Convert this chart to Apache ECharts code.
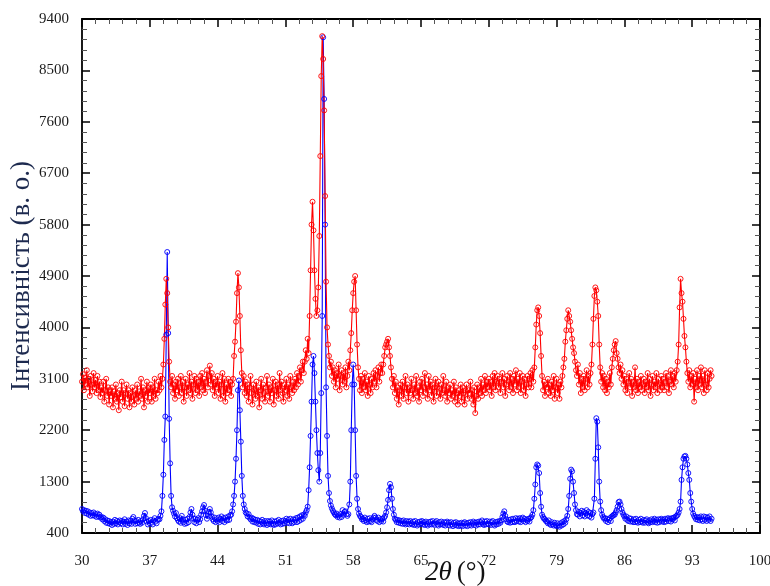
<!DOCTYPE html>
<html>
<head>
<meta charset="utf-8">
<script src="https://cdn.jsdelivr.net/npm/echarts@6/dist/echarts.min.js"></script>
<style>
  html, body { margin: 0; padding: 0; background: #ffffff; }
  #chart { width: 770px; height: 586px; }
</style>
</head>
<body>
<div id="chart"></div>
<script>
// Scan grid: 2θ from 30.0° to 95.0° in 0.1° steps
const startAngle = 30.0;
const stepAngle = 0.1;

// x-axis and y-axis tick values
const xTicks = [30, 37, 44, 51, 58, 65, 72, 79, 86, 93, 100];
const yTicks = [400, 1300, 2200, 3100, 4000, 4900, 5800, 6700, 7600, 8500, 9400];

// Upper pattern (red), one row per degree
const redCounts = [
  3050, 3180, 2900, 3120, 3000, 3250, 2950, 3100, 2800, 3150, // 30
  3000, 2880, 3200, 2950, 3080, 2850, 3150, 2900, 3050, 2780, // 31
  2950, 2850, 3050, 2700, 2900, 3100, 2800, 2950, 2650, 2900, // 32
  2800, 2950, 2600, 2880, 2750, 3000, 2700, 2850, 2550, 2900, // 33
  2780, 3050, 2700, 2900, 2620, 2850, 3000, 2750, 2900, 2600, // 34
  2850, 2700, 2950, 2800, 2650, 2900, 2750, 3000, 2700, 2880, // 35
  2800, 3100, 2750, 2950, 2600, 2900, 2800, 3050, 2700, 2950, // 36
  2850, 3000, 2700, 2950, 2800, 3100, 2750, 2900, 2850, 3050, // 37
  2900, 3150, 2950, 3100, 3350, 3800, 4400, 4850, 4600, 4000, // 38
  3400, 3050, 2950, 3150, 2850, 3000, 2750, 3050, 2900, 3100, // 39
  2800, 2950, 3150, 2850, 3050, 2700, 2950, 3100, 2800, 3000, // 40
  2900, 3200, 2850, 3050, 2750, 3000, 3150, 2850, 3100, 2900, // 41
  3050, 2800, 3150, 2950, 3200, 2900, 3100, 2850, 3050, 3250, // 42
  2950, 3150, 3330, 3000, 3200, 2900, 3100, 2800, 3050, 2950, // 43
  3150, 2850, 3050, 2750, 3000, 3200, 2800, 3100, 2700, 3000, // 44
  2850, 3100, 2900, 3050, 2800, 3000, 3100, 3500, 3750, 4100, // 45
  4600, 4950, 4700, 4200, 3600, 3200, 2950, 3150, 2850, 3050, // 46
  2800, 3000, 2700, 2950, 3150, 2850, 2650, 3000, 2900, 2750, // 47
  3050, 2800, 2950, 2600, 2900, 3100, 2750, 3000, 2850, 2700, // 48
  2950, 3150, 2800, 3000, 2700, 2950, 2850, 3100, 2650, 2900, // 49
  3050, 2800, 3000, 2750, 3200, 2900, 3050, 2850, 2700, 3000, // 50
  2900, 3100, 2800, 3000, 2750, 3150, 2950, 2850, 3050, 2900, // 51
  3100, 2950, 3200, 3000, 3150, 3300, 3050, 3250, 3400, 3200, // 52
  3400, 3600, 3450, 3800, 3550, 4200, 5000, 5800, 6200, 5700, // 53
  5000, 4500, 4200, 4300, 4700, 5600, 7000, 8400, 9100, 8700, // 54
  7800, 6300, 4800, 4000, 3700, 3500, 3300, 3400, 3150, 3300, // 55
  3050, 3250, 2950, 3200, 3100, 3350, 2900, 3150, 3250, 3000, // 56
  3200, 3050, 3300, 2950, 3150, 3400, 3250, 3600, 3900, 4300, // 57
  4600, 4800, 4900, 4300, 3700, 3300, 3100, 2900, 3150, 2850, // 58
  3100, 2950, 3200, 2900, 3050, 2800, 3150, 3000, 2850, 3100, // 59
  2950, 3200, 3050, 3250, 2950, 3150, 3300, 3050, 3200, 3350, // 60
  3200, 3350, 3500, 3650, 3700, 3750, 3800, 3650, 3500, 3300, // 61
  3100, 2950, 3150, 2850, 3050, 2750, 2950, 2650, 2900, 3000, // 62
  2800, 3050, 2750, 2950, 3150, 2850, 3000, 2700, 2950, 2850, // 63
  3100, 2900, 2750, 3000, 2850, 3150, 2800, 2950, 2700, 3050, // 64
  2900, 3100, 2800, 2950, 3200, 2850, 3000, 2750, 3150, 2900, // 65
  3050, 2800, 3000, 2700, 2950, 3100, 2800, 2950, 3050, 2850, // 66
  2750, 3000, 2850, 3150, 2900, 2800, 3050, 2700, 2950, 2850, // 67
  3000, 2750, 2900, 2800, 3050, 2700, 2950, 2850, 2650, 2900, // 68
  2800, 3000, 2700, 2950, 2850, 2650, 2900, 3000, 2750, 2900, // 69
  2850, 3050, 2750, 2900, 2650, 2950, 2500, 2800, 3000, 2750, // 70
  2950, 2850, 3100, 2800, 3000, 2900, 3150, 2850, 3050, 2950, // 71
  3100, 2900, 3050, 2800, 3150, 2950, 3200, 2900, 3050, 3150, // 72
  2950, 3100, 2850, 3050, 3200, 2950, 3100, 2800, 3000, 3150, // 73
  3050, 2900, 3200, 2950, 3100, 2850, 3150, 3000, 3250, 2900, // 74
  3100, 2950, 3200, 2850, 3050, 3150, 2900, 3100, 2800, 3000, // 75
  3150, 2950, 3100, 3200, 2950, 3250, 3050, 3300, 3650, 4050, // 76
  4300, 4350, 4200, 3900, 3500, 3150, 2900, 3050, 2800, 3000, // 77
  2950, 3100, 2850, 3000, 2800, 3050, 2900, 3150, 2750, 2950, // 78
  3100, 2850, 3000, 2750, 3050, 2950, 3150, 3300, 3450, 3750, // 79
  3950, 4150, 4300, 4200, 4100, 3950, 3800, 3650, 3550, 3400, // 80
  3250, 3150, 3350, 3000, 3200, 2850, 3100, 2950, 3150, 2900, // 81
  3100, 3250, 2950, 3150, 3000, 3200, 3350, 3700, 4150, 4550, // 82
  4700, 4650, 4450, 4200, 3700, 3300, 3050, 3200, 2950, 3150, // 83
  2900, 3100, 2850, 3050, 2950, 3200, 3000, 3300, 3450, 3600, // 84
  3700, 3760, 3550, 3450, 3300, 3200, 3350, 3100, 3250, 3000, // 85
  3150, 2900, 3100, 2850, 3050, 3200, 2950, 3100, 2800, 3050, // 86
  2950, 3300, 2900, 3100, 2850, 3050, 2950, 3150, 2900, 3000, // 87
  3100, 2850, 3050, 2950, 3200, 2900, 3100, 2800, 3000, 3150, // 88
  2900, 3050, 2950, 3200, 2850, 3100, 3000, 2900, 3150, 2950, // 89
  3100, 2900, 3050, 3200, 2950, 3150, 2850, 3050, 3250, 3000, // 90
  3150, 2950, 3200, 3050, 3250, 3400, 3700, 4350, 4850, 4600, // 91
  4450, 4150, 3850, 3650, 3400, 3200, 3050, 3250, 2950, 3150, // 92
  3000, 3200, 2700, 3100, 2950, 3250, 2900, 3150, 3000, 3300, // 93
  2950, 3150, 2850, 3250, 3000, 2900, 3200, 2950, 3100, 3250, // 94
  3150                                                        // 95
];

// Lower pattern (blue), one row per degree
const blueCounts = [
  820, 780, 800, 750, 790, 740, 780, 720, 760, 700,           // 30
  750, 710, 760, 700, 730, 680, 740, 690, 720, 670,           // 31
  680, 640, 670, 610, 640, 580, 620, 570, 610, 560,           // 32
  590, 540, 600, 560, 630, 570, 610, 550, 590, 620,           // 33
  570, 610, 550, 600, 640, 560, 600, 540, 620, 570,           // 34
  610, 560, 650, 680, 620, 560, 610, 570, 630, 580,           // 35
  560, 610, 580, 640, 700, 750, 660, 600, 550, 610,           // 36
  570, 630, 580, 550, 620, 660, 600, 570, 630, 650,           // 37
  640, 700, 780, 1050, 1420, 2030, 2440, 3870, 5320, 3900,    // 38
  2400, 1620, 1050, 850, 790, 740, 690, 750, 660, 630,        // 39
  600, 660, 580, 700, 640, 590, 560, 630, 570, 650,           // 40
  590, 680, 760, 820, 720, 650, 590, 650, 570, 630,           // 41
  660, 590, 640, 720, 780, 850, 890, 790, 710, 650,           // 42
  700, 770, 820, 760, 690, 640, 610, 670, 590, 640,           // 43
  610, 670, 590, 650, 690, 610, 660, 590, 670, 630,           // 44
  620, 690, 630, 710, 720, 780, 900, 1050, 1300, 1700,        // 45
  2200, 2900, 3070, 2550, 2000, 1400, 1050, 900, 820, 760,    // 46
  740, 690, 730, 670, 640, 670, 600, 650, 590, 630,           // 47
  580, 630, 560, 610, 550, 600, 630, 570, 550, 610,           // 48
  570, 540, 610, 560, 600, 550, 620, 560, 540, 600,           // 49
  550, 610, 570, 630, 580, 550, 610, 560, 620, 570,           // 50
  610, 650, 580, 630, 570, 650, 600, 570, 640, 590,           // 51
  630, 660, 590, 670, 610, 690, 630, 710, 650, 720,           // 52
  700, 760, 800, 860, 1150, 1550, 2100, 2700, 3350, 3500,     // 53
  3200, 2700, 2200, 1800, 1500, 1300, 1800, 2850, 4200, 9080, // 54
  8000, 5800, 2950, 2100, 1400, 1100, 960, 880, 830, 790,     // 55
  760, 730, 710, 740, 680, 710, 670, 730, 680, 800,           // 56
  720, 770, 780, 730, 700, 730, 900, 1300, 2200, 3000,        // 57
  3350, 3000, 2200, 1400, 1000, 820, 740, 700, 680, 640,      // 58
  650, 610, 670, 620, 590, 650, 600, 660, 610, 590,           // 59
  640, 670, 700, 670, 630, 610, 670, 590, 640, 610,           // 60
  650, 600, 670, 700, 760, 850, 980, 1150, 1260, 1200,        // 61
  1000, 820, 720, 650, 630, 590, 630, 580, 620, 570,          // 62
  610, 560, 620, 570, 550, 610, 560, 600, 550, 610,           // 63
  570, 550, 600, 540, 610, 560, 530, 590, 550, 600,           // 64
  560, 610, 550, 590, 540, 600, 560, 530, 590, 550,           // 65
  600, 550, 610, 560, 540, 590, 610, 550, 530, 590,           // 66
  550, 600, 560, 540, 590, 530, 580, 600, 540, 580,           // 67
  530, 590, 550, 520, 580, 540, 590, 530, 570, 520,           // 68
  570, 530, 580, 520, 570, 590, 530, 570, 520, 580,           // 69
  540, 590, 530, 570, 600, 540, 580, 530, 590, 550,           // 70
  600, 550, 590, 620, 560, 540, 600, 550, 610, 560,           // 71
  550, 600, 540, 590, 610, 550, 530, 590, 550, 600,           // 72
  560, 610, 580, 620, 680, 740, 780, 700, 640, 600,           // 73
  590, 630, 580, 640, 590, 650, 600, 590, 660, 610,           // 74
  650, 600, 660, 590, 640, 670, 610, 650, 590, 630,           // 75
  610, 650, 600, 660, 680, 720, 800, 1000, 1250, 1550,        // 76
  1600, 1580, 1450, 1100, 860, 720, 680, 650, 640, 610,       // 77
  600, 570, 620, 560, 540, 590, 550, 530, 580, 540,           // 78
  520, 570, 530, 510, 570, 530, 590, 550, 610, 580,           // 79
  640, 700, 820, 1050, 1350, 1510, 1480, 1300, 1100, 900,     // 80
  800, 730, 720, 770, 690, 750, 790, 710, 770, 690,           // 81
  750, 800, 710, 770, 690, 750, 670, 730, 760, 1000,          // 82
  1700, 2410, 2350, 1900, 1300, 950, 800, 720, 680, 650,      // 83
  660, 610, 650, 590, 630, 660, 610, 690, 700, 720,           // 84
  720, 760, 800, 860, 940, 950, 900, 820, 760, 720,           // 85
  690, 650, 690, 630, 610, 660, 600, 650, 610, 590,           // 86
  640, 590, 650, 600, 580, 630, 590, 650, 600, 580,           // 87
  630, 580, 620, 640, 590, 570, 620, 590, 640, 590,           // 88
  620, 650, 590, 630, 580, 640, 590, 630, 650, 600,           // 89
  630, 590, 650, 600, 640, 660, 610, 650, 600, 660,           // 90
  640, 670, 620, 690, 700, 720, 760, 820, 950, 1330,          // 91
  1550, 1700, 1740, 1750, 1700, 1600, 1450, 1330, 1100, 950,  // 92
  820, 740, 700, 670, 640, 680, 630, 670, 620, 690,           // 93
  640, 610, 690, 630, 680, 610, 670, 630, 690, 610,           // 94
  650                                                         // 95
];

function toPairs(counts) {
  return counts.map((v, i) => [Number((startAngle + i * stepAngle).toFixed(1)), v]);
}

const serif = '"Liberation Serif", "DejaVu Serif", serif';
const labelColor = '#1a1a1a';

function patternSeries(counts, color) {
  return {
    type: 'line',
    data: toPairs(counts),
    symbol: 'circle',
    symbolSize: 5,
    showSymbol: true,
    lineStyle: { color: color, width: 1.1 },
    itemStyle: { color: 'rgba(255,255,255,0)', borderColor: color, borderWidth: 0.9 },
    emphasis: { disabled: true },
    z: 3
  };
}

const majorTick = { show: true, inside: true, length: 8, lineStyle: { color: '#000', width: 1.5 } };
const minorTick = { show: true, splitNumber: 5, length: 5, lineStyle: { color: '#555', width: 1 } };
const frameLine = { show: true, onZero: false, lineStyle: { color: '#000', width: 1.8 } };
const plainNumber = v => String(v);

const chart = echarts.init(document.getElementById('chart'), null, { renderer: 'canvas' });
chart.setOption({
  animation: false,
  backgroundColor: '#ffffff',
  grid: { left: 82, right: 10, top: 19, bottom: 53, containLabel: false, outerBoundsMode: 'none' },
  xAxis: [
    {
      type: 'value', min: xTicks[0], max: xTicks[xTicks.length - 1], interval: xTicks[1] - xTicks[0],
      position: 'bottom',
      axisLine: frameLine, axisTick: majorTick, minorTick: minorTick,
      splitLine: { show: false },
      axisLabel: { color: labelColor, fontFamily: serif, fontSize: 15, margin: 21, formatter: plainNumber }
    },
    {
      type: 'value', min: xTicks[0], max: xTicks[xTicks.length - 1], interval: xTicks[1] - xTicks[0],
      position: 'top',
      axisLine: frameLine, axisTick: majorTick, minorTick: minorTick,
      splitLine: { show: false }, axisLabel: { show: false }
    }
  ],
  yAxis: [
    {
      type: 'value', min: yTicks[0], max: yTicks[yTicks.length - 1], interval: yTicks[1] - yTicks[0],
      position: 'left',
      axisLine: frameLine, axisTick: majorTick, minorTick: minorTick,
      splitLine: { show: false },
      axisLabel: { color: labelColor, fontFamily: serif, fontSize: 15, margin: 13, formatter: plainNumber },
      name: 'Інтенсивність (в. о.)',
      nameLocation: 'middle',
      nameGap: 47,
      nameMoveOverlap: false,
      nameTextStyle: { color: '#1d2a4f', fontFamily: serif, fontSize: 27 }
    },
    {
      type: 'value', min: yTicks[0], max: yTicks[yTicks.length - 1], interval: yTicks[1] - yTicks[0],
      position: 'right',
      axisLine: frameLine, axisTick: majorTick, minorTick: minorTick,
      splitLine: { show: false }, axisLabel: { show: false }
    }
  ],
  graphic: [
    {
      type: 'text', left: 425, top: 559,
      style: {
        text: '{i|2θ}{s| }{n|(°)}',
        rich: {
          i: { fontFamily: serif, fontStyle: 'italic', fontSize: 27, fill: '#111' },
          s: { fontFamily: serif, fontSize: 27, width: 5 },
          n: { fontFamily: serif, fontSize: 27, fill: '#111' }
        }
      }
    }
  ],
  series: [
    patternSeries(blueCounts, '#0000ff'),
    patternSeries(redCounts, '#ff0000')
  ]
});
</script>
</body>
</html>
